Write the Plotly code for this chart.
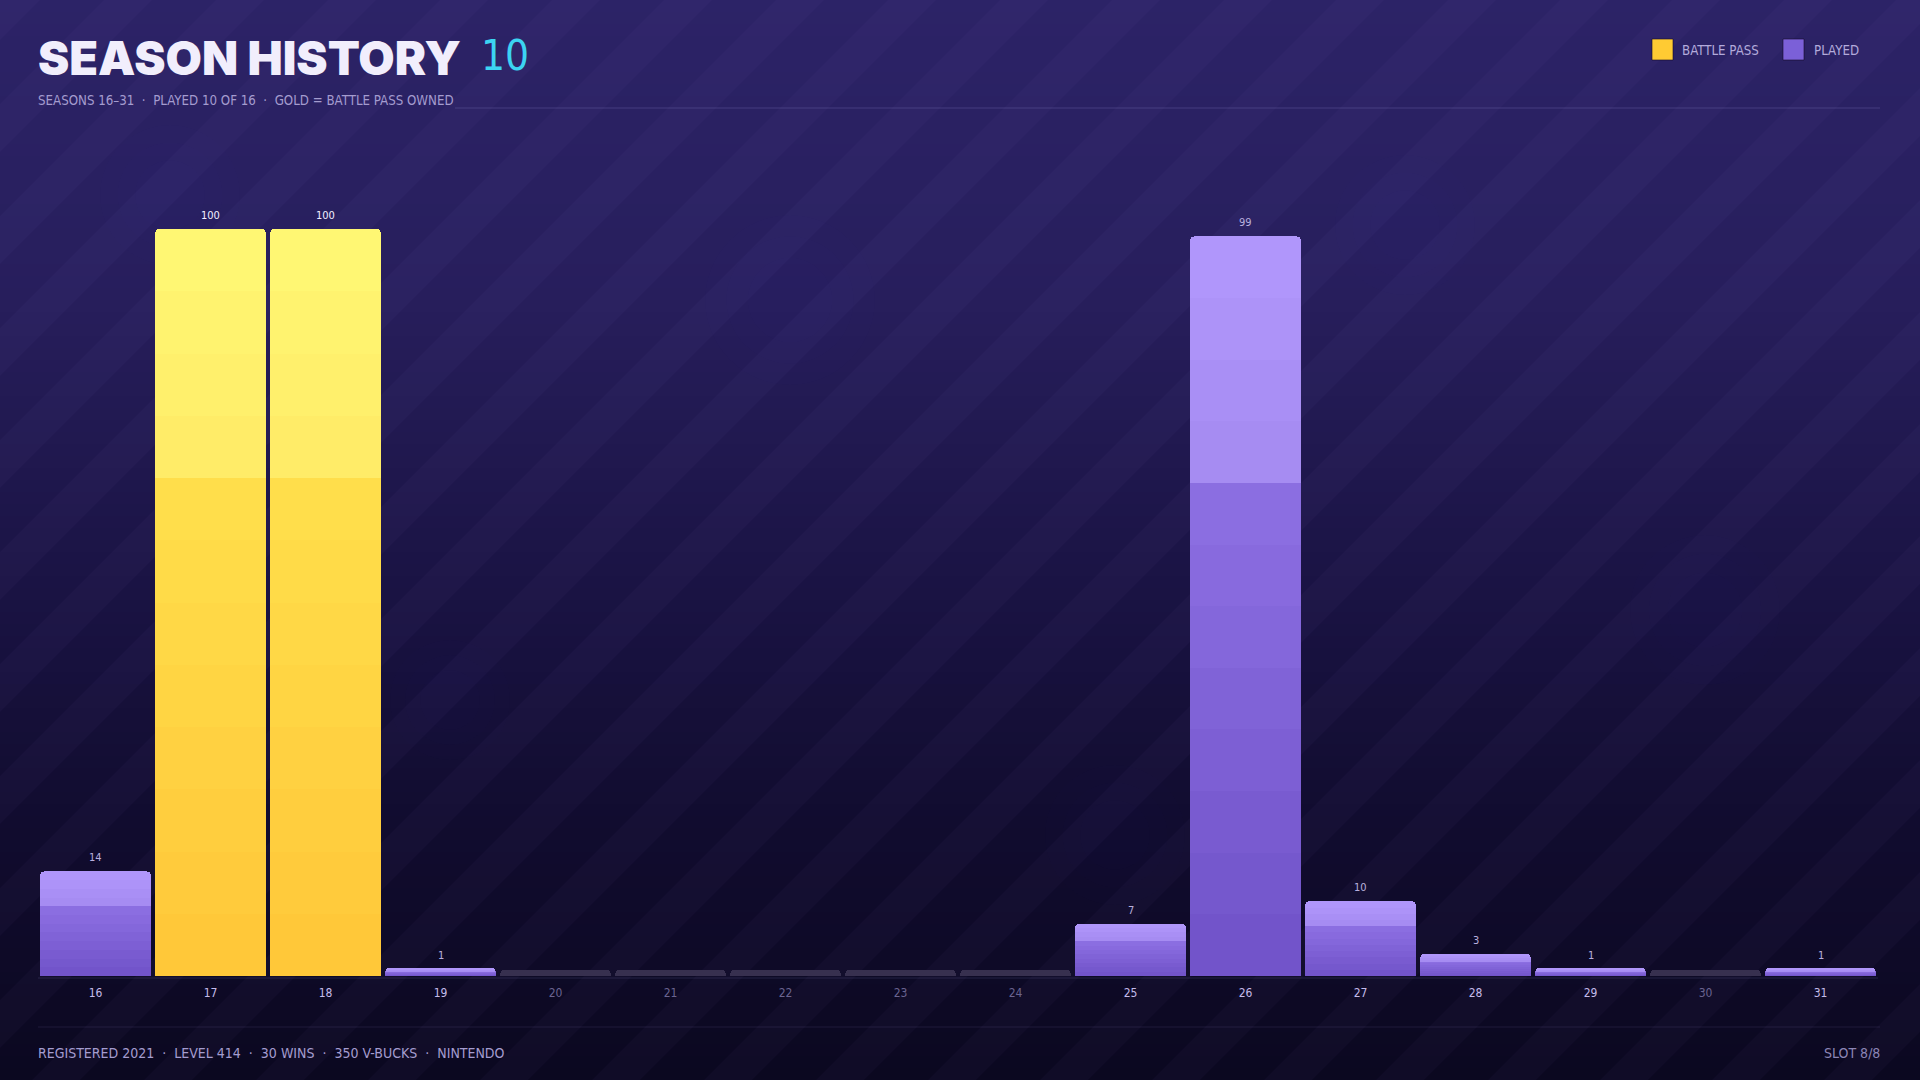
import plotly.graph_objects as go

# ---------------- data ----------------
seasons = [str(s) for s in range(16, 32)]
levels = [14, 100, 100, 1, 0, 0, 0, 0, 0, 7, 99, 10, 3, 1, 0, 1]
battle_pass = [False, True, True, False, False, False, False, False, False,
               False, False, False, False, False, False, False]
title_main = "SEASON HISTORY"
title_count = "10"
subtitle = "SEASONS 16–31  ·  PLAYED 10 OF 16  ·  GOLD = BATTLE PASS OWNED"
footer_left = "REGISTERED 2021  ·  LEVEL 414  ·  30 WINS  ·  350 V-BUCKS  ·  NINTENDO"
footer_right = "SLOT 8/8"
legend_items = ["BATTLE PASS", "PLAYED"]

# ---------------- layout geometry (pixels) ----------------
W, H = 1920, 1080
X0, X1 = 38, 1878
YT, YB = 130, 976
UNIT_PX = 7.47
YMAX = (YB - YT) / UNIT_PX
STUB = 0.8

NARROW = "DejaVu Sans Condensed, Liberation Sans Narrow, sans-serif"


def px(x):
    return (x - X0) / (X1 - X0)


def py(y):
    return (YB - y) / (YB - YT)


def hex2rgb(h):
    h = h.lstrip("#")
    return tuple(int(h[i:i + 2], 16) for i in (0, 2, 4))


def mix(a, b, t):
    ra, rb = hex2rgb(a), hex2rgb(b)
    return "rgb(%d,%d,%d)" % tuple(round(ra[i] + (rb[i] - ra[i]) * t) for i in range(3))


GOLD = ["#FFC638", "#FFE04C", "#FFEA66", "#FFF975"]
PURP = ["#7052C8", "#8D70E3", "#A48AF0", "#B298FD"]


def seg_color(stops, t):
    if t < 2 / 3:
        return mix(stops[0], stops[1], t / (2 / 3))
    return mix(stops[2], stops[3], (t - 2 / 3) / (1 / 3))


fig = go.Figure()

NLOW, NHIGH = 8, 4
N = NLOW + NHIGH
for k in range(N):
    if k < NLOW:
        frac = (2 / 3) / NLOW
        t = (k + 0.5) * frac
    else:
        frac = (1 / 3) / NHIGH
        t = 2 / 3 + (k - NLOW + 0.5) * frac
    ys = [v * frac for v in levels]
    cols = [seg_color(GOLD if bp else PURP, t) for bp in battle_pass]
    fig.add_trace(go.Bar(x=seasons, y=ys, marker=dict(color=cols, line=dict(width=0)),
                         hoverinfo="skip", showlegend=False))

# placeholder stubs for unplayed seasons
fig.add_trace(go.Bar(x=seasons, y=[STUB if v == 0 else 0 for v in levels],
                     marker=dict(color="#37304f", line=dict(width=0)),
                     hoverinfo="skip", showlegend=False))

ticktext = []
for s, v in zip(seasons, levels):
    c = "#C4BCEA" if v > 0 else "#6A6490"
    ticktext.append('<span style="color:%s">%s</span>' % (c, s))

shapes = []
# background gradient
BG = [(0, "#2C2367"), (300, "#271E5C"), (560, "#1B1446"), (820, "#110C2F"), (1080, "#0B0820")]
band = 12
for y in range(0, H, band):
    yc = y + band / 2
    for i in range(len(BG) - 1):
        if BG[i][0] <= yc <= BG[i + 1][0]:
            t = (yc - BG[i][0]) / (BG[i + 1][0] - BG[i][0])
            col = mix(BG[i][1], BG[i + 1][1], t)
            break
    shapes.append(dict(type="rect", xref="paper", yref="paper", layer="below",
                       x0=px(-5), x1=px(W + 5), y0=py(y + band + 0.5), y1=py(y),
                       fillcolor=col, line=dict(width=0)))
# diagonal stripes
for x0 in range(-1200, 1950, 112):
    w = 48
    pts = [(x0, H), (x0 + w, H), (x0 + w + H, 0), (x0 + H, 0)]
    path = "M " + " L ".join("%.5f,%.5f" % (px(a), py(b)) for a, b in pts) + " Z"
    shapes.append(dict(type="path", xref="paper", yref="paper", layer="below", path=path,
                       fillcolor="rgba(190,170,255,0.03)", line=dict(width=0)))
# soft bokeh (concentric faint discs)
for cx, cy, r in [(170, 195, 70), (790, 300, 85), (1405, 225, 70), (1705, 610, 75),
                  (1115, 835, 70), (450, 700, 60)]:
    for f in (1.0, 0.75, 0.5):
        rr = r * f
        shapes.append(dict(type="circle", xref="paper", yref="paper", layer="below",
                           x0=px(cx - rr), x1=px(cx + rr), y0=py(cy + rr), y1=py(cy - rr),
                           fillcolor="rgba(160,140,255,0.009)", line=dict(width=0)))
# divider lines
shapes.append(dict(type="line", xref="paper", yref="paper", layer="below",
                   x0=px(455), x1=px(1880), y0=py(108), y1=py(108),
                   line=dict(color="rgba(170,160,230,0.22)", width=1)))
shapes.append(dict(type="line", xref="paper", yref="paper", layer="below",
                   x0=px(38), x1=px(1880), y0=py(1027), y1=py(1027),
                   line=dict(color="rgba(170,160,230,0.12)", width=1)))
# baseline
shapes.append(dict(type="line", xref="paper", yref="paper", layer="below",
                   x0=px(38), x1=px(1878), y0=py(978), y1=py(978),
                   line=dict(color="rgba(170,160,230,0.16)", width=1)))
# legend swatches
for xs, col in [(1652, "#FFCB33"), (1783, "#7B60D8")]:
    shapes.append(dict(type="rect", xref="paper", yref="paper",
                       x0=px(xs), x1=px(xs + 21), y0=py(60), y1=py(39),
                       fillcolor=col, line=dict(color="rgba(20,10,40,0.6)", width=1)))

annotations = [
    dict(text=title_main, x=px(36), y=py(57), xanchor="left", yanchor="middle",
         font=dict(family="Inter, Roboto, sans-serif", size=47, color="#F1EEFC", weight=900)),
    dict(text=title_count, x=px(479), y=py(56), xanchor="left", yanchor="middle",
         font=dict(family=NARROW, size=42, color="#3CD4F2")),
    dict(text=subtitle, x=px(36), y=py(101), xanchor="left", yanchor="middle",
         font=dict(family=NARROW, size=13.2, color="#A49CCF")),
    dict(text=legend_items[0], x=px(1680), y=py(50), xanchor="left", yanchor="middle",
         font=dict(family=NARROW, size=13.2, color="#B3ABDB")),
    dict(text=legend_items[1], x=px(1812), y=py(50), xanchor="left", yanchor="middle",
         font=dict(family=NARROW, size=13.2, color="#B3ABDB")),
    dict(text=footer_left, x=px(36), y=py(1053), xanchor="left", yanchor="middle",
         font=dict(family=NARROW, size=14, color="#A49CCF")),
    dict(text=footer_right, x=px(1882), y=py(1053), xanchor="right", yanchor="middle",
         font=dict(family=NARROW, size=14, color="#8C85B5")),
]
for a in annotations:
    a.update(xref="paper", yref="paper", showarrow=False)

# value labels above bars (data-anchored, x as category index)
for i, (v, bp) in enumerate(zip(levels, battle_pass)):
    if v > 0:
        annotations.append(dict(x=i, y=v, xref="x", yref="y", text=str(v), showarrow=False,
                                xanchor="center", yanchor="bottom", yshift=5,
                                font=dict(family=NARROW, size=11,
                                          color="#F2EFFF" if bp else "#B9B0DE")))

fig.update_layout(
    width=W, height=H,
    margin=dict(l=X0, r=W - X1, t=YT, b=H - YB, pad=0),
    paper_bgcolor="#0B0820", plot_bgcolor="rgba(0,0,0,0)",
    barmode="stack", bargap=0.04, barcornerradius=4,
    showlegend=False,
    shapes=shapes, annotations=annotations,
    xaxis=dict(type="category", tickvals=seasons, ticktext=ticktext, showgrid=False,
               range=[-0.5, len(seasons) - 0.5], fixedrange=True,
               zeroline=False, showline=False, ticks="", ticklabelstandoff=8,
               tickfont=dict(family=NARROW, size=12)),
    yaxis=dict(range=[0, YMAX], visible=False, showgrid=False, zeroline=False,
               fixedrange=True),
)

fig.write_html("out.html", config={"displayModeBar": False},
               post_script="document.body.style.margin='0';document.body.style.overflow='hidden';")
